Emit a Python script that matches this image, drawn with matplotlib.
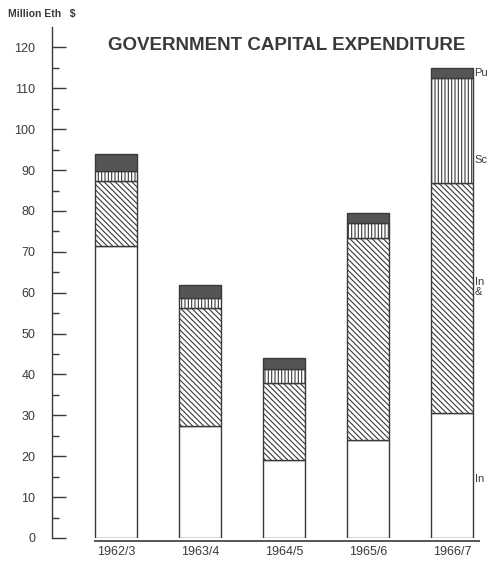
import numpy as np
import matplotlib
matplotlib.use("Agg")
import matplotlib.pyplot as plt

# Government capital expenditure, million Eth $
years = ["1962/3", "1963/4", "1964/5", "1965/6", "1966/7"]
infrastructure = [71.5, 27.5, 19.0, 24.0, 30.5]
industry_agric = [15.8, 28.7, 18.9, 49.3, 56.3]
social = [2.4, 2.5, 3.4, 3.7, 25.7]
public_admin = [4.3, 3.3, 2.7, 2.6, 2.5]

# segment labels, cut by the page edge in the original
seg_labels = ["In", "In\n&", "Sc", "Pu"]
seg_label_y = [14.4, 61.4, 92.4, 113.7]

ink = "#3a3a3a"
plt.rcParams["font.family"] = ["Liberation Sans", "DejaVu Sans"]
plt.rcParams["hatch.color"] = ink
plt.rcParams["hatch.linewidth"] = 0.8

fig = plt.figure(figsize=(4.88, 5.64), dpi=100)
# axes placed in pixels: left spine at x=52, y=0 at 538px, y=125 near top
ax = fig.add_axes([52 / 488, 26 / 564, 436 / 488, 511 / 564])

x = np.arange(len(years))
w = 0.5
bottoms = np.zeros(len(years))
styles = [
    dict(facecolor="white", hatch=None),
    dict(facecolor="white", hatch="\\\\\\\\\\\\"),
    dict(facecolor="white", hatch="|||||"),
    dict(facecolor="#555555", hatch=None),
]
for vals, st in zip([infrastructure, industry_agric, social, public_admin], styles):
    ax.bar(x, vals, w, bottom=bottoms, edgecolor=ink, linewidth=1.0, **st)
    bottoms += np.array(vals)

ax.set_xlim(-0.762, 4.43)
ax.set_ylim(0, 125)

for s in ["top", "right", "bottom"]:
    ax.spines[s].set_visible(False)
ax.spines["left"].set_color(ink)
ax.spines["left"].set_linewidth(1.0)

# baseline under the bars, separate from the y axis
ax.hlines(-0.8, -0.26, 4.34, color=ink, linewidth=1.2, clip_on=False)

ax.set_yticks(np.arange(0, 121, 10))
ax.set_yticks(np.arange(5, 121, 10), minor=True)
ax.tick_params(axis="y", which="major", direction="in", length=10, width=1.0,
               color=ink, labelsize=9, labelcolor=ink, pad=12)
ax.tick_params(axis="y", which="minor", direction="in", length=5, width=1.0, color=ink)
ax.set_xticks(x)
ax.set_xticklabels(years)
ax.tick_params(axis="x", length=0, labelsize=9, labelcolor=ink, pad=6)

for lab, yv in zip(seg_labels, seg_label_y):
    ax.text(4.27, yv, lab, fontsize=8, color=ink, va="center", ha="left",
            clip_on=False, linespacing=1.0)

fig.text(8 / 488, 1 - 14 / 564, "Million Eth   $", fontsize=7.5, fontweight="bold",
         color=ink, va="center", ha="left")
fig.text(287 / 488, 1 - 46 / 564, "GOVERNMENT CAPITAL EXPENDITURE", fontsize=13.5,
         fontweight="bold", color=ink, va="center", ha="center")

fig.savefig("out.png", dpi=100, facecolor="white")
